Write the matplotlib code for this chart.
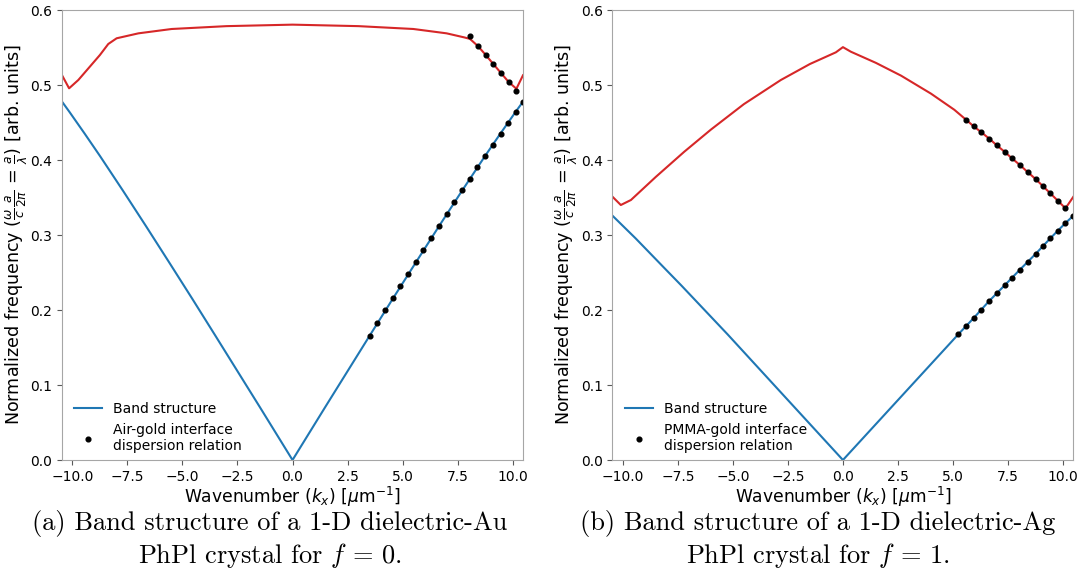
import numpy as np
import matplotlib
matplotlib.use("Agg")
import matplotlib.pyplot as plt

# ========= DATA =========
# (a) dielectric-Au, f = 0
kx_band1_a = [-10.47, -10.13, -9.45, -8.75, -7.70, -6.66, -5.61, -4.55, -3.52, -1.5, 0.0,
              1.5, 3.52, 4.55, 5.61, 6.66, 7.70, 8.75, 9.45, 10.13, 10.47]
band1_a = [0.4778, 0.464, 0.4355, 0.4055, 0.359, 0.312, 0.2638, 0.2148, 0.1665, 0.0713, 0.0,
           0.0713, 0.1665, 0.2148, 0.2638, 0.312, 0.359, 0.4055, 0.4355, 0.464, 0.4778]

kx_band2_a = [-10.47, -10.15, -9.73, -8.75, -8.37, -7.99, -7.0, -5.49, -3.0, 0.0,
              3.0, 5.49, 7.0, 7.8, 8.06, 8.42, 8.78, 9.12, 9.47, 9.82, 10.17, 10.47]
band2_a = [0.513, 0.4956, 0.5067, 0.540, 0.5547, 0.5623, 0.5689, 0.5747, 0.5785, 0.5805,
           0.5785, 0.5747, 0.5689, 0.5635, 0.5615, 0.552, 0.540, 0.528, 0.516, 0.504, 0.4950, 0.513]

kx_spp_a = [3.52, 3.86, 4.22, 4.55, 4.90, 5.26, 5.61, 5.95, 6.30, 6.66, 7.00, 7.34, 7.70,
            8.06, 8.39, 8.75, 9.09, 9.45, 9.80, 10.13, 10.47,
            10.17, 9.82, 9.47, 9.12, 8.78, 8.44, 8.06]
spp_a = [0.166, 0.183, 0.1996, 0.216, 0.2316, 0.2476, 0.2636, 0.280, 0.296, 0.312, 0.328,
         0.344, 0.3596, 0.3751, 0.3907, 0.4058, 0.4204, 0.4351, 0.4498, 0.464, 0.4778,
         0.4916, 0.504, 0.5164, 0.5284, 0.540, 0.5524, 0.5653]

# (b) dielectric-Ag, f = 1
kx_band1_b = [-10.47, -9.42, -8.04, -7.34, -5.235, 0.0,
              5.235, 5.94, 6.63, 7.34, 8.04, 8.75, 9.42, 10.11, 10.47]
band1_b = [0.3258, 0.2956, 0.2538, 0.2327, 0.1674, 0.0,
           0.1674, 0.1893, 0.2116, 0.2327, 0.2538, 0.2747, 0.2956, 0.316, 0.3258]

kx_band2_b = [-10.47, -10.09, -9.63, -8.5, -7.21, -6.0, -4.5, -2.82, -1.5, -0.32, 0.0,
              0.36, 1.5, 2.64, 4.0, 5.06, 5.61, 5.94, 6.29, 6.65, 6.99, 7.34, 7.68, 8.04,
              8.39, 8.75, 9.08, 9.42, 9.76, 10.11, 10.47]
band2_b = [0.3511, 0.340, 0.3467, 0.3775, 0.411, 0.4405, 0.4745, 0.5067, 0.528, 0.5436, 0.5505,
           0.5444, 0.5295, 0.5125, 0.4885, 0.467, 0.4533, 0.4449, 0.4369, 0.4284, 0.4196,
           0.4111, 0.4022, 0.3933, 0.384, 0.3747, 0.3653, 0.3556, 0.3458, 0.3356, 0.3511]

kx_spp_b = [5.235, 5.60, 5.94, 6.29, 6.63, 6.99, 7.34, 7.68, 8.04, 8.39, 8.75, 9.09, 9.42,
            9.76, 10.11, 10.47,
            10.11, 9.76, 9.42, 9.08, 8.75, 8.39, 8.04, 7.68, 7.34, 6.99, 6.65, 6.29, 5.94, 5.61]
spp_b = [0.1674, 0.1786, 0.1893, 0.2004, 0.2116, 0.2223, 0.2327, 0.2431, 0.2538, 0.2644,
         0.2747, 0.2858, 0.2956, 0.3058, 0.316, 0.3258,
         0.3356, 0.3458, 0.3556, 0.3653, 0.3747, 0.384, 0.3933, 0.4022, 0.4111, 0.4196,
         0.4284, 0.4369, 0.4449, 0.4533]

panels = [
    dict(k1=kx_band1_a, b1=band1_a, k2=kx_band2_a, b2=band2_a, ks=kx_spp_a, s=spp_a,
         spp_label="Air-gold interface\ndispersion relation",
         caption="(a) Band structure of a 1-D dielectric-Au\nPhPl crystal for $f\\,=\\,0$."),
    dict(k1=kx_band1_b, b1=band1_b, k2=kx_band2_b, b2=band2_b, ks=kx_spp_b, s=spp_b,
         spp_label="PMMA-gold interface\ndispersion relation",
         caption="(b) Band structure of a 1-D dielectric-Ag\nPhPl crystal for $f\\,=\\,1$."),
]

KMAX = np.pi / 0.3
BLUE = "#1f77b4"
RED = "#d62728"

# ========= PLOT =========
fig = plt.figure(figsize=(10.82, 5.79), dpi=100)
ax_boxes = [[0.0573, 0.2055, 0.4261, 0.7772], [0.5660, 0.2055, 0.4261, 0.7772]]
caption_x = [270 / 1082, 818 / 1082]

for box, cx, p in zip(ax_boxes, caption_x, panels):
    ax = fig.add_axes(box)
    ax.plot(p["k1"], p["b1"], color=BLUE, lw=1.5, label="Band structure")
    ax.plot(p["k2"], p["b2"], color=RED, lw=1.5)
    ax.plot(p["ks"], p["s"], "o", color="black", ms=3.4, label=p["spp_label"])
    ax.set_xlim(-KMAX, KMAX)
    ax.set_ylim(0, 0.6)
    ax.set_xticks(np.arange(-10, 10.1, 2.5))
    ax.set_yticks(np.arange(0, 0.61, 0.1))
    ax.tick_params(labelsize=10, color="0.35")
    for sp in ax.spines.values():
        sp.set_color("0.65")
    ax.set_xlabel(r"Wavenumber ($k_x$) [$\mu$m$^{-1}$]", fontsize=12.3, labelpad=0.5)
    ax.set_ylabel(r"Normalized frequency ($\frac{\omega}{c}\frac{a}{2\pi}$ = $\frac{a}{\lambda}$) [arb. units]",
                  fontsize=12.6, labelpad=0.5)
    ax.legend(loc="lower left", bbox_to_anchor=(0.0, -0.013), frameon=False, fontsize=10)
    fig.text(cx, 1 - 540 / 579, p["caption"], ha="center", va="center",
             fontsize=19, family="cmr10", math_fontfamily="cm", linespacing=1.2)

fig.savefig("out.png", dpi=100)
